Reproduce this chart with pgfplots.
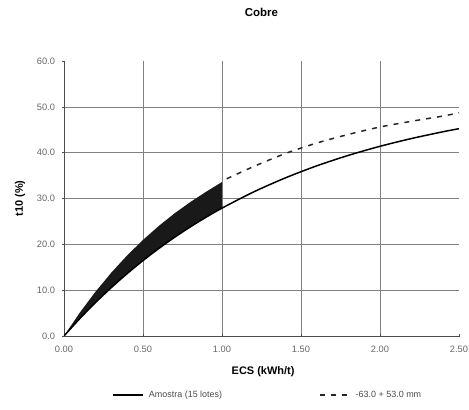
\documentclass[border=0pt]{standalone}
\usepackage{pgfplots}
\pgfplotsset{compat=1.18}
\usepackage{fontspec}
\setmainfont{Liberation Sans}
\begin{document}
\begin{tikzpicture}
\begin{axis}[
  scale only axis, width=395bp, height=275bp,
  xmin=0, xmax=2.5, ymin=0, ymax=60,
  axis lines=left, axis line style={-, black!70, line width=0.7pt},
  xtick={0,0.5,1,1.5,2,2.5}, ytick={0,10,20,30,40,50,60},
  extra x ticks={0.5,1,1.5,2}, extra y ticks={10,20,30,40,50},
  extra x tick labels={}, extra y tick labels={},
  extra tick style={grid=major},
  grid style={black!50, line width=0.6pt},
  tick style={black!70, line width=0.6pt}, major tick length=3bp,
  /pgf/number format/assume math mode=true,
  xticklabel style={/pgf/number format/.cd, fixed, fixed zerofill, precision=2, /tikz/.cd, font=\fontsize{9.3}{10}\selectfont, text=black!60, yshift=-5bp},
  yticklabel style={/pgf/number format/.cd, fixed, fixed zerofill, precision=1, /tikz/.cd, font=\fontsize{9.3}{10}\selectfont, text=black!60, xshift=-4bp},
  every axis title shift=0pt,
  title={\bfseries Cobre}, title style={font=\fontsize{11.5}{13}\selectfont, at={(axis description cs:0.5,1.175)}, anchor=center},
  xlabel={\bfseries ECS (kWh/t)}, xlabel style={font=\fontsize{11}{13}\selectfont, at={(axis description cs:0.504,-0.131)}, anchor=center},
  ylabel={\bfseries t10 (\%)}, ylabel style={font=\fontsize{11}{13}\selectfont, at={(axis description cs:-0.111,0.5)}, anchor=center},
  legend columns=2,
  legend style={draw=none, fill=none, font=\fontsize{9}{10}\selectfont, text=black!70, at={(axis description cs:0.516,-0.215)}, anchor=center, /tikz/every even column/.append style={column sep=95bp}, /tikz/every odd column/.append style={column sep=3bp}},
  legend image code/.code={\draw[#1] (0bp,0bp) -- (30bp,0bp);},
]
% filled band between lower and upper curves for 0..1
\addplot[draw=none, fill=black!90, forget plot] coordinates {
(0,0) (0.1,5.10) (0.2,9.69) (0.3,13.84) (0.4,17.59) (0.5,20.96) (0.6,24.01) (0.7,26.76) (0.8,29.24) (0.9,31.48) (1.0,33.6)
(1.0,27.90) (0.9,25.93) (0.8,23.81) (0.7,21.54) (0.6,19.09) (0.5,16.46) (0.4,13.62) (0.3,10.58) (0.2,7.31) (0.1,3.79) (0,0)
} -- cycle;
\addplot[black, line width=1.5pt, smooth] coordinates {
(0,0) (0.1,3.79) (0.2,7.31) (0.3,10.58) (0.4,13.62) (0.5,16.46) (0.6,19.09) (0.7,21.54) (0.8,23.81) (0.9,25.93) (1.0,27.90)
(1.2,31.43) (1.4,34.48) (1.6,37.13) (1.8,39.41) (2.0,41.39) (2.2,43.09) (2.4,44.57) (2.5,45.23)
};
\addlegendentry{Amostra (15 lotes)}
\addplot[black!85, line width=1.5pt, dash pattern=on 5bp off 6bp, smooth] coordinates {
(1.03,34.3) (1.2,36.97) (1.4,39.80) (1.6,42.10) (1.8,43.98) (2.0,45.60) (2.2,46.85) (2.4,48.0) (2.5,48.7)
};
\addlegendentry{-63.0 + 53.0 mm}
\coordinate (ll) at (rel axis cs:0,0);
\coordinate (ur) at (rel axis cs:1,1);
\end{axis}
\pgfresetboundingbox
\path ([shift={(-64bp,-74bp)}]ll) rectangle ([shift={(10bp,61bp)}]ur);
\end{tikzpicture}
\end{document}
